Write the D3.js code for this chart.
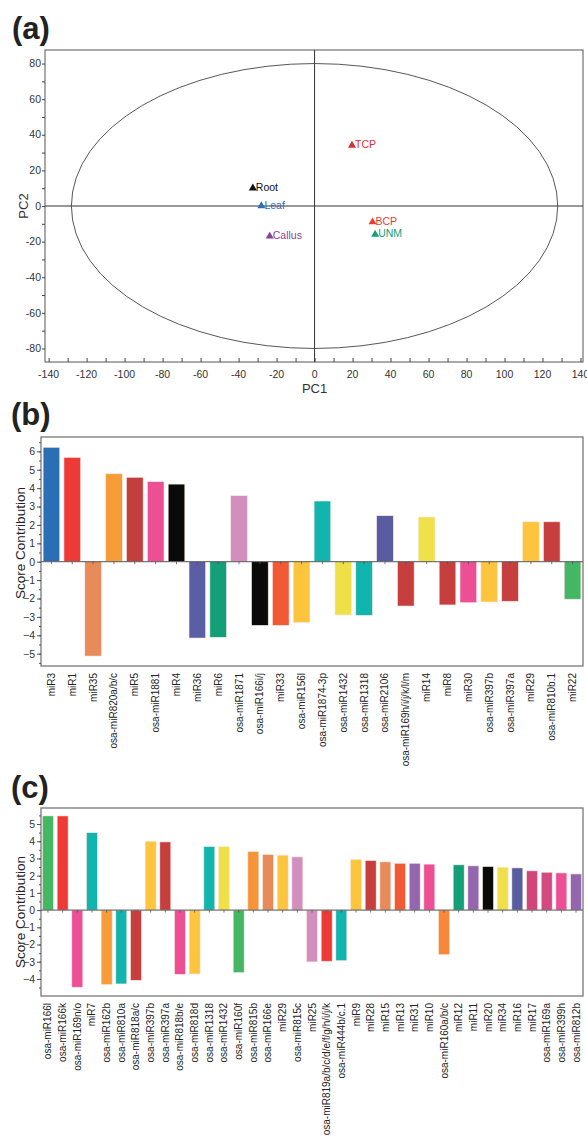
<!DOCTYPE html>
<html>
<head>
<meta charset="utf-8">
<script src="https://cdn.jsdelivr.net/npm/d3@7"></script>
<style>
  body { margin: 0; background: #fff; }
  svg text { font-family: "Liberation Sans", Arial, sans-serif; }
</style>
</head>
<body>
<div id="chart"></div>
<script>
// ---- data ----
// (a) PCA scores
var pcaSamples = ["Root", "Leaf", "Callus", "TCP", "BCP", "UNM"];
var pcaPC1 = [-32.5, -28, -23.6, 19.7, 30.5, 31.9];
var pcaPC2 = [10, 0, -17, 34, -9, -16];
var ellipseRadii = [128, 80];

// (b) score contribution
var bNames = ["miR3", "miR1", "miR35", "osa-miR820a/b/c", "miR5", "osa-miR1881", "miR4",
  "miR36", "miR6", "osa-miR1871", "osa-miR166i/j", "miR33", "osa-miR156l",
  "osa-miR1874-3p", "osa-miR1432", "osa-miR1318", "osa-miR2106", "osa-miR169h/i/j/k/l/m",
  "miR14", "miR8", "miR30", "osa-miR397b", "osa-miR397a", "miR29", "osa-miR810b.1", "miR22"];
var bValues = [6.22, 5.67, -5.13, 4.78, 4.59, 4.35, 4.22, -4.15, -4.11, 3.59, -3.46, -3.46,
  -3.31, 3.30, -2.90, -2.92, 2.50, -2.41, 2.43, -2.35, -2.23, -2.19, -2.15, 2.17, 2.17, -2.04];

// (c) score contribution
var cNames = ["osa-miR166l", "osa-miR166k", "osa-miR169n/o", "miR7", "osa-miR162b",
  "osa-miR810a", "osa-miR818a/c", "osa-miR397b", "osa-miR397a", "osa-miR818b/e",
  "osa-miR818d", "osa-miR1318", "osa-miR1432", "osa-miR160f", "osa-miR815b",
  "osa-miR166e", "miR29", "osa-miR815c", "miR25", "osa-miR819a/b/c/d/e/f/g/h/i/j/k",
  "osa-miR444b/c.1", "miR9", "miR28", "miR15", "miR13", "miR31", "miR10",
  "osa-miR160a/b/c", "miR12", "miR11", "miR20", "miR34", "miR16", "miR17",
  "osa-miR169a", "osa-miR399h", "osa-miR812b"];
var cValues = [5.47, 5.47, -4.48, 4.50, -4.33, -4.29, -4.08, 4.00, 3.96, -3.73, -3.71,
  3.69, 3.69, -3.63, 3.40, 3.23, 3.19, 3.09, -3.01, -2.97, -2.94, 2.94, 2.88, 2.80,
  2.72, 2.72, 2.67, -2.59, 2.63, 2.57, 2.53, 2.49, 2.45, 2.28, 2.20, 2.16, 2.10];

// ---- colours (style) ----
var pcaColors = ["#111111", "#2f6db5", "#8e3f97", "#d9302b", "#ee3a36", "#13a079"];
var bColors = ["#2a6fb5", "#ee3a36", "#e88b5a", "#f89b39", "#c1403d", "#ec4f94", "#0a0a0a",
  "#5a5ea2", "#13a079", "#d28fbd", "#0a0a0a", "#f15a35", "#fdc43d", "#12b5ad", "#efe04a",
  "#12b5ad", "#575da0", "#c63f3e", "#f0e04a", "#c63f3e", "#ec4f94", "#fdc43d", "#c63f3e",
  "#fdc43d", "#c63f3e", "#44b764"];
var cColors = ["#44b764", "#ee3a36", "#ec4f94", "#12b5ad", "#f89b39", "#12b5ad", "#c63f3e",
  "#fdc43d", "#c63f3e", "#ec4f94", "#fdc43d", "#12b5ad", "#efe04a", "#44b764", "#f7943a",
  "#e88b5a", "#fdc43d", "#d28fbd", "#d28fbd", "#ee3a36", "#12b5ad", "#fdc43d", "#c63f3e",
  "#e88b5a", "#f15a35", "#9466ad", "#ec4f94", "#f7883a", "#13a079", "#9466ad", "#0a0a0a",
  "#efe04a", "#575da0", "#d2457a", "#d44a80", "#ec4f94", "#9466ad"];

var W = 587, H = 1136;
var svg = d3.select("#chart").append("svg")
  .attr("width", W)
  .attr("height", H)
  .style("display", "block");

function panelLabel(txt, x, y) {
  svg.append("text")
    .attr("x", x).attr("y", y)
    .attr("font-size", 31)
    .attr("font-weight", "bold")
    .attr("fill", "#222")
    .text(txt);
}

// ================= (a) PCA =================
panelLabel("(a)", 12, 39);

var ax = { left: 45, right: 583, top: 50, bottom: 362 };
var xA = d3.scaleLinear().domain([-141.9, 141.3]).range([ax.left, ax.right]);
var yA = d3.scaleLinear().domain([-87.6, 87.6]).range([ax.bottom, ax.top]);
var gA = svg.append("g");

gA.append("rect")
  .attr("x", ax.left).attr("y", ax.top)
  .attr("width", ax.right - ax.left).attr("height", ax.bottom - ax.top)
  .attr("fill", "none").attr("stroke", "#555").attr("stroke-width", 1);

// zero lines
gA.append("line")
  .attr("x1", xA(0)).attr("x2", xA(0)).attr("y1", ax.top).attr("y2", ax.bottom)
  .attr("stroke", "#333").attr("stroke-width", 1);
gA.append("line")
  .attr("x1", ax.left).attr("x2", ax.right).attr("y1", yA(0)).attr("y2", yA(0))
  .attr("stroke", "#333").attr("stroke-width", 1);

// confidence ellipse
gA.append("ellipse")
  .attr("cx", xA(0)).attr("cy", yA(0))
  .attr("rx", xA(ellipseRadii[0]) - xA(0))
  .attr("ry", yA(0) - yA(ellipseRadii[1]))
  .attr("fill", "none").attr("stroke", "#444").attr("stroke-width", 0.9);

// x axis: ticks pointing up into the plot
gA.append("g").attr("transform", "translate(0," + ax.bottom + ")")
  .call(d3.axisTop(xA).tickValues(d3.range(-140, 141, 10)).tickSize(4)
    .tickFormat(function() { return ""; }))
  .call(function(g) { g.select(".domain").remove(); });
gA.append("g").selectAll("text").data(d3.range(-140, 141, 20)).join("text")
  .attr("x", function(d) { return xA(d); })
  .attr("y", ax.bottom + 16)
  .attr("text-anchor", "middle").attr("font-size", 10.5).attr("fill", "#333")
  .text(function(d) { return d; });

// y axis: ticks pointing out
gA.append("g").attr("transform", "translate(" + ax.left + ",0)")
  .call(d3.axisLeft(yA).tickValues(d3.range(-80, 81, 10)).tickSize(3)
    .tickFormat(function() { return ""; }))
  .call(function(g) { g.select(".domain").remove(); });
gA.append("g").selectAll("text").data(d3.range(-80, 81, 20)).join("text")
  .attr("x", ax.left - 4)
  .attr("y", function(d) { return yA(d); })
  .attr("dy", "0.35em")
  .attr("text-anchor", "end").attr("font-size", 10.5).attr("fill", "#333")
  .text(function(d) { return d; });
gA.selectAll(".tick line").attr("stroke", "#444");

gA.append("text")
  .attr("x", xA(0)).attr("y", ax.bottom + 31)
  .attr("text-anchor", "middle").attr("font-size", 13).attr("fill", "#333")
  .text("PC1");
gA.append("text")
  .attr("transform", "translate(" + 28 + "," + yA(0) + ") rotate(-90)")
  .attr("text-anchor", "middle").attr("font-size", 13).attr("fill", "#333")
  .text("PC2");

// sample points
var tri = d3.symbol().type(d3.symbolTriangle).size(28);
pcaSamples.forEach(function(name, i) {
  var px = xA(pcaPC1[i]), py = yA(pcaPC2[i]);
  gA.append("path")
    .attr("d", tri)
    .attr("transform", "translate(" + px + "," + py + ")")
    .attr("fill", pcaColors[i]);
  gA.append("text")
    .attr("x", px + 3).attr("y", py - 1)
    .attr("dy", "0.35em")
    .attr("font-size", 10.5)
    .attr("fill", pcaColors[i])
    .text(name);
});

// ================= bar panels =================
function barPanel(opt) {
  var g = svg.append("g");
  var x = d3.scaleBand().domain(opt.names).range([opt.left, opt.right])
    .paddingInner(opt.pad).paddingOuter(0.1);
  var y = d3.scaleLinear().domain(opt.ydomain).range([opt.bottom, opt.top]);

  g.append("rect")
    .attr("x", opt.left).attr("y", opt.top)
    .attr("width", opt.right - opt.left).attr("height", opt.bottom - opt.top)
    .attr("fill", "none").attr("stroke", "#777").attr("stroke-width", 1.3);

  g.selectAll("rect.bar").data(opt.values).join("rect")
    .attr("class", "bar")
    .attr("x", function(d, i) { return x(opt.names[i]); })
    .attr("width", x.bandwidth())
    .attr("y", function(d) { return y(Math.max(0, d)); })
    .attr("height", function(d) { return Math.abs(y(d) - y(0)); })
    .attr("fill", function(d, i) { return opt.colors[i]; })
    .attr("stroke", "#fbe9e4").attr("stroke-width", 0.6);

  // zero line with small ticks at each bar
  g.append("line")
    .attr("x1", opt.left).attr("x2", opt.right)
    .attr("y1", y(0)).attr("y2", y(0))
    .attr("stroke", "#555").attr("stroke-width", 1);
  g.selectAll("line.zt").data(opt.names).join("line")
    .attr("class", "zt")
    .attr("x1", function(d) { return x(d) + x.bandwidth() / 2; })
    .attr("x2", function(d) { return x(d) + x.bandwidth() / 2; })
    .attr("y1", y(0)).attr("y2", y(0) + 2.5)
    .attr("stroke", "#555").attr("stroke-width", 0.8);

  // y axis: major + minor ticks
  var ticks = d3.range(opt.ymin, opt.ymax + 1, 1);
  g.append("g").attr("transform", "translate(" + opt.left + ",0)")
    .call(d3.axisLeft(y).tickValues(d3.range(opt.ymin - 0.5, opt.ymax + 0.6, 0.5))
      .tickSize(2).tickFormat(function() { return ""; }))
    .call(function(s) { s.select(".domain").remove(); s.selectAll("line").attr("stroke", "#555"); });
  g.append("g").attr("transform", "translate(" + opt.left + ",0)")
    .call(d3.axisLeft(y).tickValues(ticks).tickSize(4).tickPadding(2)
      .tickFormat(d3.format("d")))
    .call(function(s) {
      s.select(".domain").remove();
      s.selectAll("line").attr("stroke", "#555");
      s.selectAll("text").attr("font-size", 10.5).attr("fill", "#333")
        .attr("font-family", "Liberation Sans, Arial, sans-serif");
    });

  g.append("text")
    .attr("transform", "translate(" + 25 + "," + opt.titleY + ") rotate(-90)")
    .attr("text-anchor", "middle").attr("font-size", 13.5).attr("fill", "#222")
    .text("Score Contribution");

  // rotated category labels
  g.selectAll("text.cat").data(opt.names).join("text")
    .attr("class", "cat")
    .attr("transform", function(d) {
      return "translate(" + (x(d) + x.bandwidth() / 2) + "," + opt.labelY + ") rotate(-90)";
    })
    .attr("dy", "0.35em")
    .attr("text-anchor", "end")
    .attr("font-size", 10)
    .attr("fill", "#222")
    .text(function(d) { return d; });
}

panelLabel("(b)", 11, 425);
barPanel({
  names: bNames, values: bValues, colors: bColors, pad: 0.2,
  left: 41, right: 583, top: 437, bottom: 666,
  ydomain: [-5.67, 6.78], ymin: -5, ymax: 6,
  titleY: 543, labelY: 673
});

panelLabel("(c)", 11, 798);
barPanel({
  names: cNames, values: cValues, colors: cColors, pad: 0.25,
  left: 41, right: 583, top: 808, bottom: 996,
  ydomain: [-4.99, 5.93], ymin: -4, ymax: 5,
  titleY: 912, labelY: 1003
});
</script>
</body>
</html>
